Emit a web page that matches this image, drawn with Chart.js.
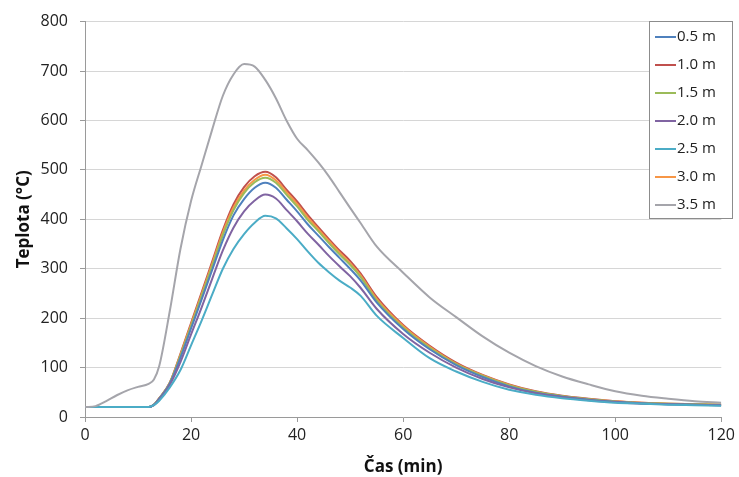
<!DOCTYPE html>
<html>
<head>
<meta charset="utf-8">
<script src="https://cdn.jsdelivr.net/npm/chart.js@4.4.1/dist/chart.umd.min.js"></script>
<style>
  html, body { margin: 0; padding: 0; background: #fff; }
  #wrap { width: 739px; height: 477px; }
</style>
</head>
<body>
<div id="wrap"><canvas id="chart" width="739" height="477"></canvas></div>
<script>
// time (min)
var times = [0, 2, 4, 6, 8, 10, 12, 13, 14, 16, 18, 20, 22, 24, 26, 28, 30, 32, 34, 36, 38, 40, 42, 44, 46, 48, 50, 52, 55, 60, 65, 70, 75, 80, 85, 90, 95, 100, 105, 110, 115, 120];

// temperature (°C) per distance
var t05 = [20, 20, 20, 20, 20, 20, 20, 25, 37, 68, 120, 179, 238, 298, 358, 408, 441, 464, 474, 464, 440, 416, 390, 367, 344, 322, 300, 276, 232, 178, 137, 105, 81, 62, 49, 41, 35, 31, 28, 26, 25, 24];
var t10 = [20, 20, 20, 20, 20, 20, 20, 25, 38, 70, 128, 190, 252, 315, 378, 430, 465, 487, 496, 485, 460, 436, 409, 384, 360, 337, 316, 290, 243, 186, 144, 110, 85, 66, 52, 43, 37, 32, 29, 27, 26, 25];
var t15 = [20, 20, 20, 20, 20, 20, 20, 25, 37, 69, 124, 184, 245, 306, 368, 418, 453, 475, 484, 474, 450, 426, 399, 376, 352, 329, 308, 283, 236, 181, 140, 107, 83, 64, 51, 42, 36, 31, 28, 27, 26, 25];
var t20 = [20, 20, 20, 20, 20, 20, 20, 24, 35, 65, 111, 167, 222, 280, 337, 383, 416, 438, 450, 442, 419, 396, 371, 349, 326, 305, 285, 261, 219, 168, 130, 100, 77, 60, 48, 40, 34, 30, 27, 26, 25, 24];
var t25 = [20, 20, 20, 20, 20, 20, 20, 24, 33, 60, 95, 145, 195, 248, 300, 340, 370, 393, 407, 402, 382, 360, 335, 312, 293, 276, 262, 245, 205, 160, 119, 92, 71, 55, 45, 38, 33, 29, 27, 25, 24, 23];
var t30 = [20, 20, 20, 20, 20, 20, 20, 25, 38, 69, 126, 187, 248, 310, 373, 424, 458, 480, 490, 479, 455, 431, 404, 380, 356, 333, 311, 286, 239, 184, 142, 108, 84, 65, 51, 42, 36, 32, 29, 27, 26, 25];
var t35 = [20, 22, 32, 44, 54, 61, 67, 76, 103, 215, 340, 437, 510, 582, 650, 693, 714, 709, 682, 645, 600, 563, 540, 515, 487, 455, 423, 392, 345, 292, 242, 202, 163, 130, 103, 82, 66, 52, 43, 37, 32, 29];

var seriesLabels = ['0.5 m', '1.0 m', '1.5 m', '2.0 m', '2.5 m', '3.0 m', '3.5 m'];
var seriesData = [t05, t10, t15, t20, t25, t30, t35];
var seriesColors = ['#4F81BD', '#C0504D', '#9BBB59', '#8064A2', '#4BACC6', '#F79646', '#A5A5AB'];

var yTicks = [0, 100, 200, 300, 400, 500, 600, 700, 800];
var xTicks = [0, 20, 40, 60, 80, 100, 120];

var FONT = '"Open Sans", "Liberation Sans", sans-serif';

function toPoints(values) {
  return values.map(function (v, i) { return { x: times[i], y: v }; });
}

// draw order: grey behind, then the others
var order = [6, 4, 3, 0, 2, 5, 1];
var datasets = order.map(function (i) {
  return {
    label: seriesLabels[i],
    data: toPoints(seriesData[i]),
    borderColor: seriesColors[i],
    backgroundColor: seriesColors[i],
    borderWidth: 2,
    pointRadius: 0,
    cubicInterpolationMode: 'monotone',
    fill: false
  };
});

// legend box in the top right corner, Excel style
var boxLegend = {
  id: 'boxLegend',
  afterDraw: function (chart) {
    var ctx = chart.ctx;
    var x = 649, y = 21, w = 83, h = 197;
    ctx.save();
    ctx.fillStyle = '#fff';
    ctx.fillRect(x, y, w, h);
    ctx.strokeStyle = '#8c8c8c';
    ctx.lineWidth = 1;
    ctx.strokeRect(x + 0.5, y + 0.5, w, h);
    ctx.font = '15px ' + FONT;
    ctx.textBaseline = 'middle';
    ctx.fillStyle = '#222';
    for (var i = 0; i < seriesLabels.length; i++) {
      var cy = 37 + i * 28;
      ctx.strokeStyle = seriesColors[i];
      ctx.lineWidth = 2;
      ctx.beginPath();
      ctx.moveTo(655, cy);
      ctx.lineTo(676, cy);
      ctx.stroke();
      ctx.fillText(seriesLabels[i], 677, cy);
    }
    ctx.restore();
  }
};

new Chart(document.getElementById('chart').getContext('2d'), {
  type: 'line',
  data: { datasets: datasets },
  plugins: [boxLegend],
  options: {
    responsive: false,
    animation: false,
    layout: { padding: { top: 17, right: 15, left: 0, bottom: 0 } },
    plugins: {
      legend: { display: false },
      tooltip: { enabled: false }
    },
    scales: {
      x: {
        type: 'linear',
        min: 0,
        max: 120,
        afterBuildTicks: function (s) { s.ticks = xTicks.map(function (v) { return { value: v }; }); },
        afterFit: function (s) { s.height = 60; },
        ticks: { color: '#222', font: { family: FONT, size: 16 }, padding: 4, maxRotation: 0 },
        grid: { display: true, drawOnChartArea: false, tickLength: 5, tickColor: '#9a9a9a' },
        border: { color: '#9a9a9a', width: 1 },
        title: {
          display: true,
          text: 'Čas (min)',
          color: '#111',
          font: { family: FONT, size: 17, weight: 'bold' },
          padding: { top: 2, bottom: 0 }
        }
      },
      y: {
        min: 0,
        max: 800,
        afterBuildTicks: function (s) { s.ticks = yTicks.map(function (v) { return { value: v }; }); },
        afterFit: function (s) { s.width = 85; },
        ticks: { color: '#222', font: { family: FONT, size: 16 }, padding: 12 },
        grid: { color: '#d6d6d6', tickLength: 5, tickColor: '#9a9a9a', lineWidth: 1 },
        border: { color: '#9a9a9a', width: 1 },
        title: {
          display: true,
          text: 'Teplota (°C)',
          color: '#111',
          font: { family: FONT, size: 17, weight: 'bold' },
          padding: { top: 14, bottom: 0 }
        }
      }
    }
  }
});
</script>
</body>
</html>
